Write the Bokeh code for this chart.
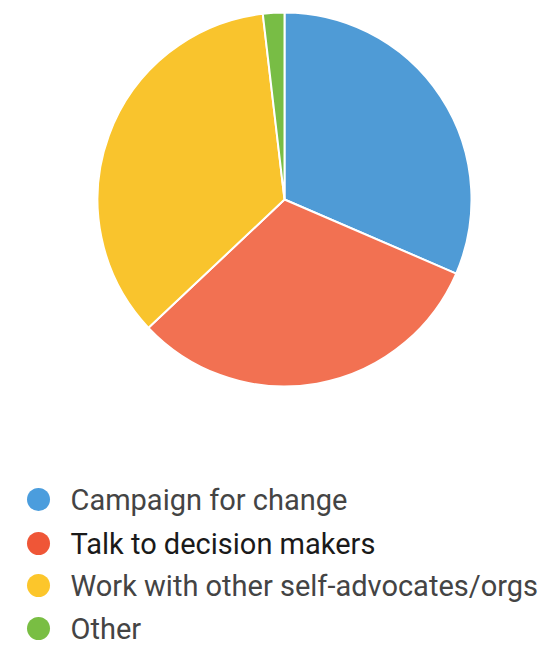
import numpy as np
from bokeh.plotting import figure
from bokeh.models import ColumnDataSource, Range1d
from bokeh.core.properties import value
from bokeh.embed import file_html
from bokeh.resources import INLINE

categories = ["Campaign for change", "Talk to decision makers",
              "Work with other self-advocates/orgs", "Other"]
counts = [17, 17, 19, 1]
slice_colors = ["#4f9bd6", "#f27152", "#f9c42d", "#78bd45"]
legend_colors = ["#4b9ddd", "#ef5637", "#fcc62b", "#79be43"]
label_colors = ["#444444", "#1a1a1a", "#444444", "#444444"]

W, H = 546, 645
p = figure(width=W, height=H, output_backend="svg", toolbar_location=None,
           x_range=Range1d(0, W), y_range=Range1d(0, H), min_border=0)
p.axis.visible = False
p.grid.visible = False
p.outline_line_color = None
p.background_fill_color = "white"
p.border_fill_color = "white"

vals = np.array(counts, dtype=float)
frac = vals / vals.sum()
cum = np.concatenate([[0], np.cumsum(frac)])
start = np.pi / 2 - 2 * np.pi * cum[:-1]
end = np.pi / 2 - 2 * np.pi * cum[1:]

cx, cy, r = 284, H - 199, 187
src = ColumnDataSource(dict(start=start, end=end, color=slice_colors))
p.wedge(x=cx, y=cy, radius=r, start_angle="start", end_angle="end",
        direction="clock", fill_color="color", line_color="white",
        line_width=2, source=src)

row_y = [H - 499, H - 543, H - 585, H - 628]
lsrc = ColumnDataSource(dict(y=row_y, color=legend_colors, label=categories,
                             tcolor=label_colors))
p.scatter(x=38, y="y", size=23, marker="circle", fill_color="color",
          line_color=None, source=lsrc)
p.text(x=70, y="y", text="label", text_color="tcolor",
       text_font=value("Roboto"), text_font_size="29px",
       text_baseline="middle", text_align="left", source=lsrc)

open("out.html", "w").write(file_html(p, INLINE))
